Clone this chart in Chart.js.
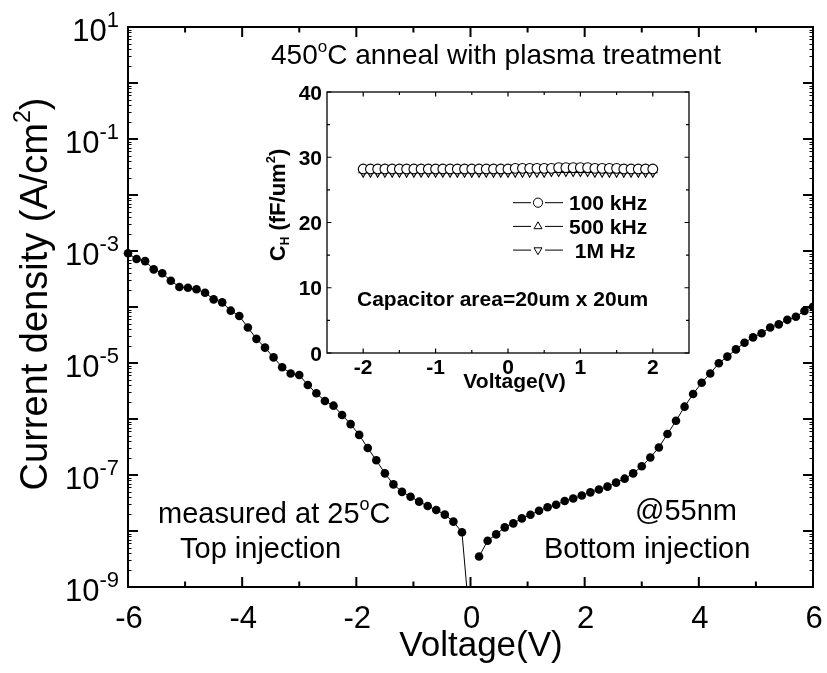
<!DOCTYPE html>
<html>
<head>
<meta charset="utf-8">
<script src="https://cdn.jsdelivr.net/npm/chart.js@4/dist/chart.umd.min.js"></script>
<style>
  html, body { margin: 0; padding: 0; background: #fff; }
  #wrap { position: relative; width: 827px; height: 673px; overflow: hidden; background: #fff; }
  #main { position: absolute; left: 0; top: 0; }
  #inset { position: absolute; left: 240px; top: 70px; }
</style>
</head>
<body>
<div id="wrap">
  <canvas id="main" width="827" height="673"></canvas>
  <canvas id="inset" width="470" height="340"></canvas>
</div>
<script>
// ---- J-V leakage data (top injection, negative bias) ----
const topVoltage = [-6.0, -5.85, -5.7, -5.55, -5.4, -5.25, -5.1, -4.95, -4.8, -4.65,
  -4.5, -4.35, -4.2, -4.05, -3.9, -3.75, -3.6, -3.45, -3.3, -3.15,
  -3.0, -2.85, -2.7, -2.55, -2.4, -2.25, -2.1, -1.95, -1.8, -1.65,
  -1.5, -1.35, -1.2, -1.05, -0.9, -0.75, -0.6, -0.45, -0.3, -0.15, 0.0];
const topCurrent = [9.1e-4, 7.2e-4, 6.6e-4, 4.7e-4, 4.0e-4, 2.95e-4, 2.28e-4, 2.2e-4, 2.07e-4, 1.8e-4,
  1.37e-4, 1.21e-4, 8.6e-5, 6.9e-5, 4.3e-5, 2.7e-5, 1.88e-5, 1.26e-5, 8.4e-6, 6.5e-6,
  6.1e-6, 4.05e-6, 2.88e-6, 2.1e-6, 1.73e-6, 1.18e-6, 8.1e-7, 5.2e-7, 3.03e-7, 1.83e-7,
  1.07e-7, 6.8e-8, 5.0e-8, 4.1e-8, 3.34e-8, 2.8e-8, 2.37e-8, 1.96e-8, 1.47e-8, 9.5e-9, 1.7e-10];

// ---- J-V leakage data (bottom injection, positive bias) ----
const bottomVoltage = [0.15, 0.3, 0.45, 0.6, 0.75, 0.9, 1.05, 1.2, 1.35, 1.5,
  1.65, 1.8, 1.95, 2.1, 2.25, 2.4, 2.55, 2.7, 2.85, 3.0,
  3.15, 3.3, 3.45, 3.6, 3.75, 3.9, 4.05, 4.2, 4.35, 4.5,
  4.65, 4.8, 4.95, 5.1, 5.25, 5.4, 5.55, 5.7, 5.85, 6.0];
const bottomCurrent = [3.5e-9, 6.7e-9, 8.7e-9, 1.16e-8, 1.37e-8, 1.68e-8, 1.95e-8, 2.3e-8, 2.65e-8, 2.95e-8,
  3.43e-8, 3.8e-8, 4.3e-8, 4.9e-8, 5.5e-8, 6.2e-8, 7.3e-8, 8.6e-8, 1.07e-7, 1.43e-7,
  2.05e-7, 3.1e-7, 5.4e-7, 9.3e-7, 1.66e-6, 2.8e-6, 4.45e-6, 6.5e-6, 9.9e-6, 1.3e-5,
  1.75e-5, 2.3e-5, 2.87e-5, 3.4e-5, 4.3e-5, 4.9e-5, 5.9e-5, 6.7e-5, 8.5e-5, 1.01e-4];

// ---- main axes ticks ----
const xMajorTicks = [-6, -4, -2, 0, 2, 4, 6];
const xMinorTicks = [-5, -3, -1, 1, 3, 5];
const yDecadeExps = [1, 0, -1, -2, -3, -4, -5, -6, -7, -8, -9];
const yLabelExps = [1, -1, -3, -5, -7, -9];
const logMinorMultipliers = [2, 3, 4, 5, 6, 7, 8, 9];

// ---- C-V inset data ----
const capVoltage = [-2.0, -1.9, -1.8, -1.7, -1.6, -1.5, -1.4, -1.3, -1.2, -1.1,
  -1.0, -0.9, -0.8, -0.7, -0.6, -0.5, -0.4, -0.3, -0.2, -0.1,
  0.0, 0.1, 0.2, 0.3, 0.4, 0.5, 0.6, 0.7, 0.8, 0.9,
  1.0, 1.1, 1.2, 1.3, 1.4, 1.5, 1.6, 1.7, 1.8, 1.9, 2.0];
const cap100k = [28.2, 28.2, 28.2, 28.2, 28.2, 28.2, 28.2, 28.2, 28.2, 28.2,
  28.2, 28.2, 28.2, 28.2, 28.2, 28.2, 28.2, 28.2, 28.2, 28.2,
  28.2, 28.3, 28.3, 28.3, 28.3, 28.3, 28.3, 28.4, 28.4, 28.4,
  28.4, 28.4, 28.3, 28.3, 28.3, 28.3, 28.2, 28.2, 28.2, 28.2, 28.2];
const cap500k = [28.0, 28.0, 28.0, 28.0, 28.0, 28.0, 28.0, 28.0, 28.0, 28.0,
  28.0, 28.0, 28.0, 28.0, 28.0, 28.0, 28.0, 28.0, 28.0, 28.0,
  28.0, 28.1, 28.1, 28.1, 28.1, 28.1, 28.1, 28.1, 28.1, 28.1,
  28.1, 28.1, 28.1, 28.1, 28.0, 28.0, 28.0, 28.0, 28.0, 28.0, 28.0];
const cap1M = [27.7, 27.7, 27.7, 27.7, 27.7, 27.7, 27.7, 27.7, 27.7, 27.7,
  27.7, 27.7, 27.7, 27.7, 27.7, 27.7, 27.7, 27.7, 27.7, 27.7,
  27.7, 27.7, 27.7, 27.7, 27.7, 27.7, 27.8, 27.8, 27.8, 27.8,
  27.8, 27.8, 27.7, 27.7, 27.7, 27.7, 27.7, 27.7, 27.7, 27.7, 27.7];
const insetXMajor = [-2, -1, 0, 1, 2];
const insetXMinor = [-1.5, -0.5, 0.5, 1.5];
const insetYMajor = [0, 10, 20, 30, 40];
const insetYMinor = [5, 15, 25, 35];
const insetLegendLabels = ['100 kHz', '500 kHz', ' 1M Hz'];

// ---- text helpers ----
const FAMILY = '"Liberation Sans", Arial, Helvetica, sans-serif';
function fontOf(size, bold) { return (bold ? 'bold ' : '') + size + 'px ' + FAMILY; }

// Draws a run of text pieces (with optional rise for super/subscripts).
function drawRich(ctx, segs, x, y, align, rotate) {
  ctx.save();
  let total = 0;
  const widths = segs.map(s => {
    ctx.font = fontOf(s.size, s.bold);
    const w = ctx.measureText(s.text).width;
    total += w;
    return w;
  });
  ctx.translate(x, y);
  if (rotate) ctx.rotate(-Math.PI / 2);
  let cx = align === 'center' ? -total / 2 : (align === 'right' ? -total : 0);
  ctx.textAlign = 'left';
  ctx.textBaseline = 'alphabetic';
  ctx.fillStyle = '#000';
  segs.forEach((s, i) => {
    ctx.font = fontOf(s.size, s.bold);
    ctx.fillText(s.text, cx, -(s.rise || 0));
    cx += widths[i];
  });
  ctx.restore();
}

function toPoints(xs, ys) { return xs.map((v, i) => ({ x: v, y: ys[i] })); }

// ---- frame, ticks and labels of the J-V plot ----
const jvFrame = {
  id: 'jvFrame',
  afterDraw(chart) {
    const { ctx, chartArea: a } = chart;
    const xs = chart.scales.x, ys = chart.scales.y;
    ctx.save();
    ctx.strokeStyle = '#000';
    ctx.lineWidth = 2;
    ctx.strokeRect(a.left, a.top, a.right - a.left, a.bottom - a.top);

    ctx.beginPath();
    xMajorTicks.forEach(v => {
      const px = xs.getPixelForValue(v);
      ctx.moveTo(px, a.bottom); ctx.lineTo(px, a.bottom - 10);
      ctx.moveTo(px, a.top); ctx.lineTo(px, a.top + 10);
    });
    xMinorTicks.forEach(v => {
      const px = xs.getPixelForValue(v);
      ctx.moveTo(px, a.bottom); ctx.lineTo(px, a.bottom - 5.5);
      ctx.moveTo(px, a.top); ctx.lineTo(px, a.top + 5.5);
    });
    yDecadeExps.forEach(e => {
      const py = ys.getPixelForValue(Math.pow(10, e));
      ctx.moveTo(a.left, py); ctx.lineTo(a.left + 10, py);
      ctx.moveTo(a.right, py); ctx.lineTo(a.right - 10, py);
    });
    ctx.stroke();

    ctx.lineWidth = 1;
    ctx.beginPath();
    yDecadeExps.slice(1).forEach(e => {
      logMinorMultipliers.forEach(m => {
        const py = Math.round(ys.getPixelForValue(m * Math.pow(10, e))) + 0.5;
        ctx.moveTo(a.left, py); ctx.lineTo(a.left + 3.5, py);
        ctx.moveTo(a.right, py); ctx.lineTo(a.right - 3.5, py);
      });
    });
    ctx.stroke();
    ctx.restore();

    // tick labels
    yLabelExps.forEach(e => {
      const py = ys.getPixelForValue(Math.pow(10, e));
      drawRich(ctx, [{ text: '10', size: 31 }, { text: String(e), size: 22, rise: 14 }], 119, py + 14, 'right');
    });
    xMajorTicks.forEach(v => {
      drawRich(ctx, [{ text: String(v), size: 31 }], xs.getPixelForValue(v) + 1, 628, 'center');
    });

    // axis titles
    drawRich(ctx, [{ text: 'Current density (A/cm', size: 38 }, { text: '2', size: 23, rise: 17 }, { text: ')', size: 38 }],
      47, 294, 'center', true);
    drawRich(ctx, [{ text: 'Voltage(V)', size: 35 }], 481, 656, 'center');

    // annotations
    drawRich(ctx, [{ text: '450', size: 28 }, { text: 'o', size: 17, rise: 12 }, { text: 'C anneal with plasma treatment', size: 28 }],
      271, 64, 'left');
    drawRich(ctx, [{ text: 'measured at 25', size: 29 }, { text: 'o', size: 18, rise: 13 }, { text: 'C', size: 29 }],
      158, 523, 'left');
    drawRich(ctx, [{ text: 'Top injection', size: 29 }], 180, 558, 'left');
    drawRich(ctx, [{ text: '@55nm', size: 29 }], 635, 520, 'left');
    drawRich(ctx, [{ text: 'Bottom injection', size: 29 }], 544, 558, 'left');
  }
};

new Chart(document.getElementById('main'), {
  type: 'scatter',
  data: {
    datasets: [
      {
        label: 'Top injection',
        data: toPoints(topVoltage, topCurrent),
        showLine: true,
        borderColor: '#000',
        borderWidth: 1,
        backgroundColor: '#000',
        pointBackgroundColor: '#000',
        pointBorderWidth: 0,
        pointRadius: ctx => (ctx.raw && ctx.raw.y < 1e-9 ? 0 : 4.3),
        clip: { left: 6, top: 6, right: 0, bottom: 0 }
      },
      {
        label: 'Bottom injection',
        data: toPoints(bottomVoltage, bottomCurrent),
        showLine: true,
        borderColor: '#000',
        borderWidth: 1,
        backgroundColor: '#000',
        pointBackgroundColor: '#000',
        pointBorderWidth: 0,
        pointRadius: 4.3,
        clip: { left: 6, top: 6, right: 0, bottom: 0 }
      }
    ]
  },
  options: {
    responsive: false,
    animation: false,
    devicePixelRatio: 1,
    layout: { padding: { left: 128, right: 14, top: 27, bottom: 86 } },
    plugins: { legend: { display: false }, tooltip: { enabled: false } },
    scales: {
      x: { type: 'linear', min: -6, max: 6, display: false },
      y: { type: 'logarithmic', min: 1e-9, max: 10, display: false }
    }
  },
  plugins: [jvFrame]
});

// ---- frame, ticks, legend and labels of the C-V inset ----
function markerPath(ctx, style, x, y, r) {
  ctx.beginPath();
  if (style === 'circle') {
    ctx.arc(x, y, r, 0, Math.PI * 2);
  } else {
    const dir = style === 'triangleDown' ? -1 : 1;
    ctx.moveTo(x, y - dir * r);
    ctx.lineTo(x + r * 0.866, y + dir * r * 0.5);
    ctx.lineTo(x - r * 0.866, y + dir * r * 0.5);
    ctx.closePath();
  }
}

const cvFrame = {
  id: 'cvFrame',
  afterDraw(chart) {
    const { ctx, chartArea: a } = chart;
    const xs = chart.scales.x, ys = chart.scales.y;
    ctx.save();
    ctx.strokeStyle = '#000';
    ctx.lineWidth = 1.3;
    ctx.strokeRect(a.left, a.top, a.right - a.left, a.bottom - a.top);
    ctx.lineWidth = 1.2;
    ctx.beginPath();
    const vTick = (v, len) => {
      const px = xs.getPixelForValue(v);
      ctx.moveTo(px, a.bottom); ctx.lineTo(px, a.bottom - len);
      ctx.moveTo(px, a.top); ctx.lineTo(px, a.top + len);
    };
    const hTick = (v, len) => {
      const py = ys.getPixelForValue(v);
      ctx.moveTo(a.left, py); ctx.lineTo(a.left + len, py);
      ctx.moveTo(a.right, py); ctx.lineTo(a.right - len, py);
    };
    insetXMajor.forEach(v => vTick(v, 4.5));
    insetXMinor.forEach(v => vTick(v, 3));
    insetYMajor.forEach(v => hTick(v, 4.5));
    insetYMinor.forEach(v => hTick(v, 3));
    ctx.stroke();

    // legend
    const styles = ['circle', 'triangle', 'triangleDown'];
    const lx0 = a.left + 186, lx1 = a.left + 236, mx = a.left + 211;
    insetLegendLabels.forEach((label, i) => {
      const ly = a.top + 110.7 + i * 23.7;
      ctx.lineWidth = 1;
      ctx.beginPath();
      ctx.moveTo(lx0, ly); ctx.lineTo(mx - 7, ly);
      ctx.moveTo(mx + 7, ly); ctx.lineTo(lx1, ly);
      ctx.stroke();
      markerPath(ctx, styles[i], mx, ly, 4.6);
      ctx.fillStyle = '#fff';
      ctx.fill();
      ctx.stroke();
      drawRich(ctx, [{ text: label, size: 21, bold: true }], a.left + 242, ly + 7.5, 'left');
    });
    ctx.restore();

    // tick labels
    insetXMajor.forEach(v => {
      drawRich(ctx, [{ text: String(v), size: 21, bold: true }], xs.getPixelForValue(v), a.bottom + 21, 'center');
    });
    insetYMajor.forEach(v => {
      drawRich(ctx, [{ text: String(v), size: 21, bold: true }], a.left - 5, ys.getPixelForValue(v) + 7.5, 'right');
    });

    // titles and note
    drawRich(ctx, [{ text: 'Voltage(V)', size: 21, bold: true }], (a.left + a.right) / 2 + 6.5, a.bottom + 35, 'center');
    drawRich(ctx, [
      { text: 'C', size: 22, bold: true },
      { text: 'H', size: 12, bold: true, rise: -4 },
      { text: ' (fF/um', size: 22, bold: true },
      { text: '2', size: 13, bold: true, rise: 10 },
      { text: ')', size: 22, bold: true }
    ], a.left - 42, a.top + 113, 'center', true);
    drawRich(ctx, [{ text: 'Capacitor area=20um x 20um', size: 21, bold: true }], a.left + 30, a.top + 214, 'left');
  }
};

const openMarker = {
  showLine: true,
  borderColor: '#000',
  borderWidth: 1,
  pointBackgroundColor: '#fff',
  pointBorderColor: '#000',
  pointBorderWidth: 1.1,
  pointRadius: 4.9
};

new Chart(document.getElementById('inset'), {
  type: 'scatter',
  data: {
    datasets: [
      Object.assign({ label: '100 kHz', data: toPoints(capVoltage, cap100k), pointStyle: 'circle' }, openMarker),
      Object.assign({ label: '500 kHz', data: toPoints(capVoltage, cap500k), pointStyle: 'triangle' }, openMarker),
      Object.assign({ label: '1M Hz', data: toPoints(capVoltage, cap1M), pointStyle: 'triangle', pointRotation: 180 }, openMarker)
    ]
  },
  options: {
    responsive: false,
    animation: false,
    devicePixelRatio: 1,
    layout: { padding: { left: 87, right: 21, top: 22, bottom: 57 } },
    plugins: { legend: { display: false }, tooltip: { enabled: false } },
    scales: {
      x: { type: 'linear', min: -2.5, max: 2.5, display: false },
      y: { type: 'linear', min: 0, max: 40, display: false }
    }
  },
  plugins: [cvFrame]
});
</script>
</body>
</html>
